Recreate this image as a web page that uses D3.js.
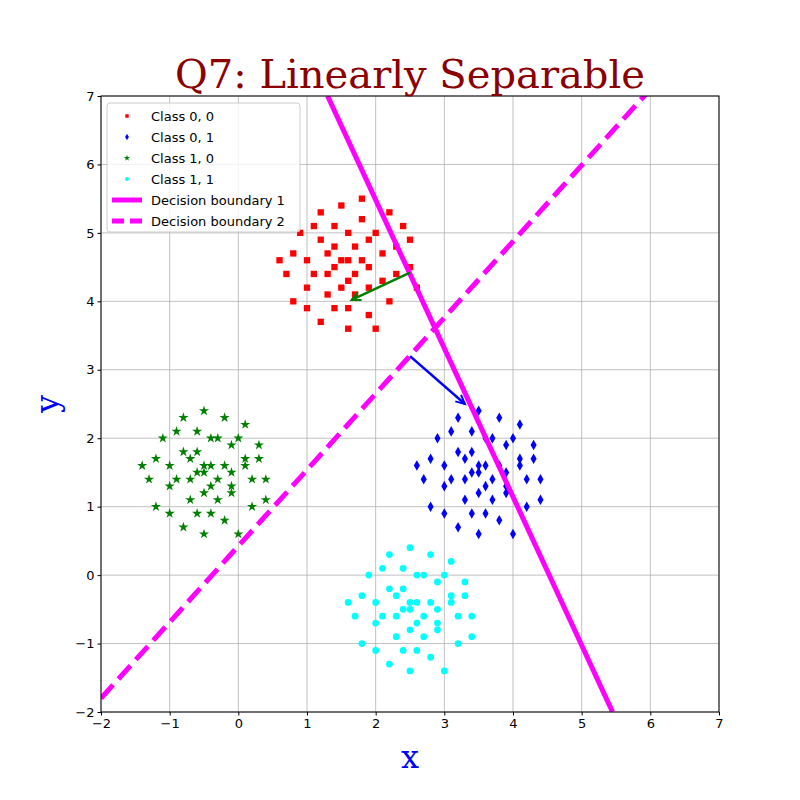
<!DOCTYPE html>
<html><head><meta charset="utf-8">
<script src="https://cdn.jsdelivr.net/npm/d3@7"></script>
<style>body{margin:0;background:#fff}</style>
</head><body>
<svg id="c" width="800" height="800"></svg>
<script>
// data
var xTicks = [-2, -1, 0, 1, 2, 3, 4, 5, 6, 7]
var yTicks = [-2, -1, 0, 1, 2, 3, 4, 5, 6, 7]

var class00 = [[1.6,4.6],[1.2,4.9],[2.1,4.3],[1.0,4.2],[1.8,5.2],[1.4,3.9],[2.3,4.8],[0.8,4.7],[1.5,5.4],[1.9,3.8],
  [1.3,4.4],[1.7,4.8],[2.0,5.0],[1.1,5.1],[2.5,4.5],[0.7,4.4],[1.6,3.6],[2.2,4.0],[1.4,5.1],[1.9,4.5],
  [1.0,4.6],[1.5,4.2],[2.4,5.1],[0.9,5.0],[1.7,4.1],[1.2,3.7],[2.1,4.7],[1.8,5.5],[1.3,4.7],[1.6,5.0],
  [2.6,4.2],[0.8,4.0],[1.5,4.6],[1.9,4.9],[1.1,4.4],[2.0,3.6],[1.4,4.5],[1.7,4.4],[2.3,4.4],[1.2,5.3],
  [1.6,4.3],[1.8,4.6],[1.0,3.9],[2.2,5.3],[1.4,4.8],[1.6,3.9],[0.6,4.6],[2.5,4.9],[1.3,4.1],[1.9,4.2]]
var class01 = [[3.5,1.5],[3.2,1.8],[3.9,1.2],[3.0,1.3],[3.7,2.0],[3.4,0.9],[4.1,1.7],[2.8,1.7],[3.5,2.4],[3.8,0.8],
  [3.3,1.4],[3.6,1.6],[4.0,2.0],[3.1,2.1],[4.4,1.4],[2.7,1.4],[3.5,0.6],[4.2,1.0],[3.4,2.1],[3.9,1.5],
  [3.0,1.6],[3.5,1.2],[4.3,1.9],[2.9,2.0],[3.7,1.1],[3.2,0.7],[4.1,1.6],[3.8,2.3],[3.3,1.7],[3.6,2.0],
  [4.4,1.1],[2.8,1.0],[3.5,1.6],[3.9,1.9],[3.1,1.4],[4.0,0.6],[3.4,1.5],[3.7,1.4],[4.2,1.4],[3.2,2.3],
  [3.6,1.3],[3.8,1.6],[3.0,0.9],[4.1,2.2],[3.4,1.8],[3.6,0.9],[2.6,1.6],[4.3,1.7],[3.3,1.1],[3.9,1.3]]
var class10 = [[-0.5,1.5],[-0.8,1.8],[-0.1,1.2],[-1.0,1.3],[-0.3,2.0],[-0.6,0.9],[0.1,1.7],[-1.2,1.7],[-0.5,2.4],[-0.2,0.8],
  [-0.7,1.4],[-0.4,1.6],[0.0,2.0],[-0.9,2.1],[0.4,1.4],[-1.3,1.4],[-0.5,0.6],[0.2,1.0],[-0.6,2.1],[-0.1,1.5],
  [-1.0,1.6],[-0.5,1.2],[0.3,1.9],[-1.1,2.0],[-0.3,1.1],[-0.8,0.7],[0.1,1.6],[-0.2,2.3],[-0.7,1.7],[-0.4,2.0],
  [0.4,1.1],[-1.2,1.0],[-0.5,1.6],[-0.1,1.9],[-0.9,1.4],[0.0,0.6],[-0.6,1.5],[-0.3,1.4],[0.2,1.4],[-0.8,2.3],
  [-0.4,1.3],[-0.2,1.6],[-1.0,0.9],[0.1,2.2],[-0.6,1.8],[-0.4,0.9],[-1.4,1.6],[0.3,1.7],[-0.7,1.1],[-0.1,1.3]]
var class11 = [[2.5,-0.5],[2.2,-0.2],[2.9,-0.8],[2.0,-0.7],[2.7,0.0],[2.4,-1.1],[3.1,-0.3],[1.8,-0.3],[2.5,0.4],[2.8,-1.2],
  [2.3,-0.6],[2.6,-0.4],[3.0,0.0],[2.1,0.1],[3.4,-0.6],[1.7,-0.6],[2.5,-1.4],[3.2,-1.0],[2.4,0.1],[2.9,-0.5],
  [2.0,-0.4],[2.5,-0.8],[3.3,-0.1],[1.9,0.0],[2.7,-0.9],[2.2,-1.3],[3.1,-0.4],[2.8,0.3],[2.3,-0.3],[2.6,0.0],
  [3.4,-0.9],[1.8,-1.0],[2.5,-0.4],[2.9,-0.1],[2.1,-0.6],[3.0,-1.4],[2.4,-0.5],[2.7,-0.6],[3.2,-0.6],[2.2,0.3],
  [2.6,-0.7],[2.8,-0.4],[2.0,-1.1],[3.1,0.2],[2.4,-0.2],[2.6,-1.1],[1.6,-0.4],[3.3,-0.3],[2.3,-0.9],[2.9,-0.7]]

// boundaries as [x0, y0, x1, y1]
var boundary1 = [1.3, 7, 5.45, -2]
var boundary2 = [-2, -1.8, 6.0, 7.1]
var arrows = [{from: [2.5, 4.42], to: [1.65, 4.02], color: 'green'},
              {from: [2.5, 3.2], to: [3.3, 2.5], color: 'blue'}]

var legendItems = [
  {label: 'Class 0, 0', color: 'red', shape: d3.symbolSquare},
  {label: 'Class 0, 1', color: 'blue', shape: d3.symbolDiamond},
  {label: 'Class 1, 0', color: 'green', shape: d3.symbolStar},
  {label: 'Class 1, 1', color: 'cyan', shape: d3.symbolCircle},
  {label: 'Decision boundary 1', line: ''},
  {label: 'Decision boundary 2', line: '12,6'}]

var L = 101, R = 719, T = 96, B = 712
var svg = d3.select('#c')
var x = d3.scaleLinear().domain([-2, 7]).range([L, R])
var y = d3.scaleLinear().domain([-2, 7]).range([B, T])

svg.append('defs').append('clipPath').attr('id', 'clip')
  .append('rect').attr('x', L).attr('y', T).attr('width', R - L).attr('height', B - T)

// grid
var g = svg.append('g')
g.selectAll('.gx').data(xTicks).enter().append('line')
  .attr('x1', x).attr('x2', x).attr('y1', T).attr('y2', B).attr('stroke', '#b0b0b0').attr('stroke-width', 0.8)
g.selectAll('.gy').data(yTicks).enter().append('line')
  .attr('y1', y).attr('y2', y).attr('x1', L).attr('x2', R).attr('stroke', '#b0b0b0').attr('stroke-width', 0.8)

var pts = svg.append('g').attr('clip-path', 'url(#clip)')
function cluster(data, item, size) {
  pts.selectAll(null).data(data).enter().append('path')
    .attr('d', d3.symbol().type(item.shape).size(size))
    .attr('transform', function(d) { return 'translate(' + x(d[0]) + ',' + y(d[1]) + ')' })
    .attr('fill', item.color)
}
cluster(class00, legendItems[0], 40)
cluster(class01, legendItems[1], 32)
cluster(class10, legendItems[2], 32)
cluster(class11, legendItems[3], 36)

pts.append('line').attr('x1', x(boundary1[0])).attr('y1', y(boundary1[1])).attr('x2', x(boundary1[2])).attr('y2', y(boundary1[3]))
  .attr('stroke', 'magenta').attr('stroke-width', 5)
pts.append('line').attr('x1', x(boundary2[0])).attr('y1', y(boundary2[1])).attr('x2', x(boundary2[2])).attr('y2', y(boundary2[3]))
  .attr('stroke', 'magenta').attr('stroke-width', 5).attr('stroke-dasharray', '18,8')

arrows.forEach(function(a) {
  var x0 = x(a.from[0]), y0 = y(a.from[1]), x1 = x(a.to[0]), y1 = y(a.to[1])
  var ang = Math.atan2(y1 - y0, x1 - x0), h = 10
  svg.append('line').attr('x1', x0).attr('y1', y0).attr('x2', x1).attr('y2', y1).attr('stroke', a.color).attr('stroke-width', 2.5)
  svg.append('path').attr('fill', 'none').attr('stroke', a.color).attr('stroke-width', 2)
    .attr('d', 'M' + (x1 - h * Math.cos(ang - 0.45)) + ',' + (y1 - h * Math.sin(ang - 0.45)) + 'L' + x1 + ',' + y1 +
      'L' + (x1 - h * Math.cos(ang + 0.45)) + ',' + (y1 - h * Math.sin(ang + 0.45)))
})

// axes
svg.append('rect').attr('x', L).attr('y', T).attr('width', R - L).attr('height', B - T).attr('fill', 'none').attr('stroke', '#000')
var ax = svg.append('g').attr('transform', 'translate(0,' + B + ')')
  .call(d3.axisBottom(x).tickValues(xTicks).tickSize(3.5).tickFormat(function(d) { return d < 0 ? '\u2212' + (-d) : d }))
var ay = svg.append('g').attr('transform', 'translate(' + L + ',0)')
  .call(d3.axisLeft(y).tickValues(yTicks).tickSize(3.5).tickFormat(function(d) { return d < 0 ? '\u2212' + (-d) : d }))
;[ax, ay].forEach(function(a) {
  a.select('.domain').remove()
  a.selectAll('text').attr('font-family', 'DejaVu Sans').attr('font-size', 13).attr('fill', '#000')
})

svg.append('text').attr('x', 410).attr('y', 88).attr('text-anchor', 'middle').attr('font-family', 'DejaVu Serif')
  .attr('font-size', 40).attr('fill', '#8b0000').text('Q7: Linearly Separable')
svg.append('text').attr('x', 410).attr('y', 768).attr('text-anchor', 'middle').attr('font-family', 'DejaVu Serif')
  .attr('font-size', 32).attr('fill', 'blue').text('x')
svg.append('text').attr('transform', 'translate(58,404) rotate(-90)').attr('text-anchor', 'middle').attr('font-family', 'DejaVu Serif')
  .attr('font-size', 32).attr('fill', 'blue').text('y')

// legend
var lg = svg.append('g').attr('transform', 'translate(107,103)')
lg.append('rect').attr('width', 193).attr('height', 129).attr('rx', 3).attr('fill', 'rgba(255,255,255,0.8)').attr('stroke', '#ccc')
var rows = lg.selectAll('.row').data(legendItems).enter().append('g')
  .attr('transform', function(d, i) { return 'translate(0,' + (13 + i * 21) + ')' })
rows.each(function(d) {
  var r = d3.select(this)
  if (d.line !== undefined) r.append('line').attr('x1', 5).attr('x2', 35).attr('stroke', 'magenta').attr('stroke-width', 5).attr('stroke-dasharray', d.line)
  else r.append('path').attr('transform', 'translate(20,0)').attr('d', d3.symbol().type(d.shape).size(12)).attr('fill', d.color)
})
rows.append('text').attr('x', 44).attr('y', 4.5).attr('font-family', 'DejaVu Sans').attr('font-size', 13).text(function(d) { return d.label })
</script>
</body></html>
